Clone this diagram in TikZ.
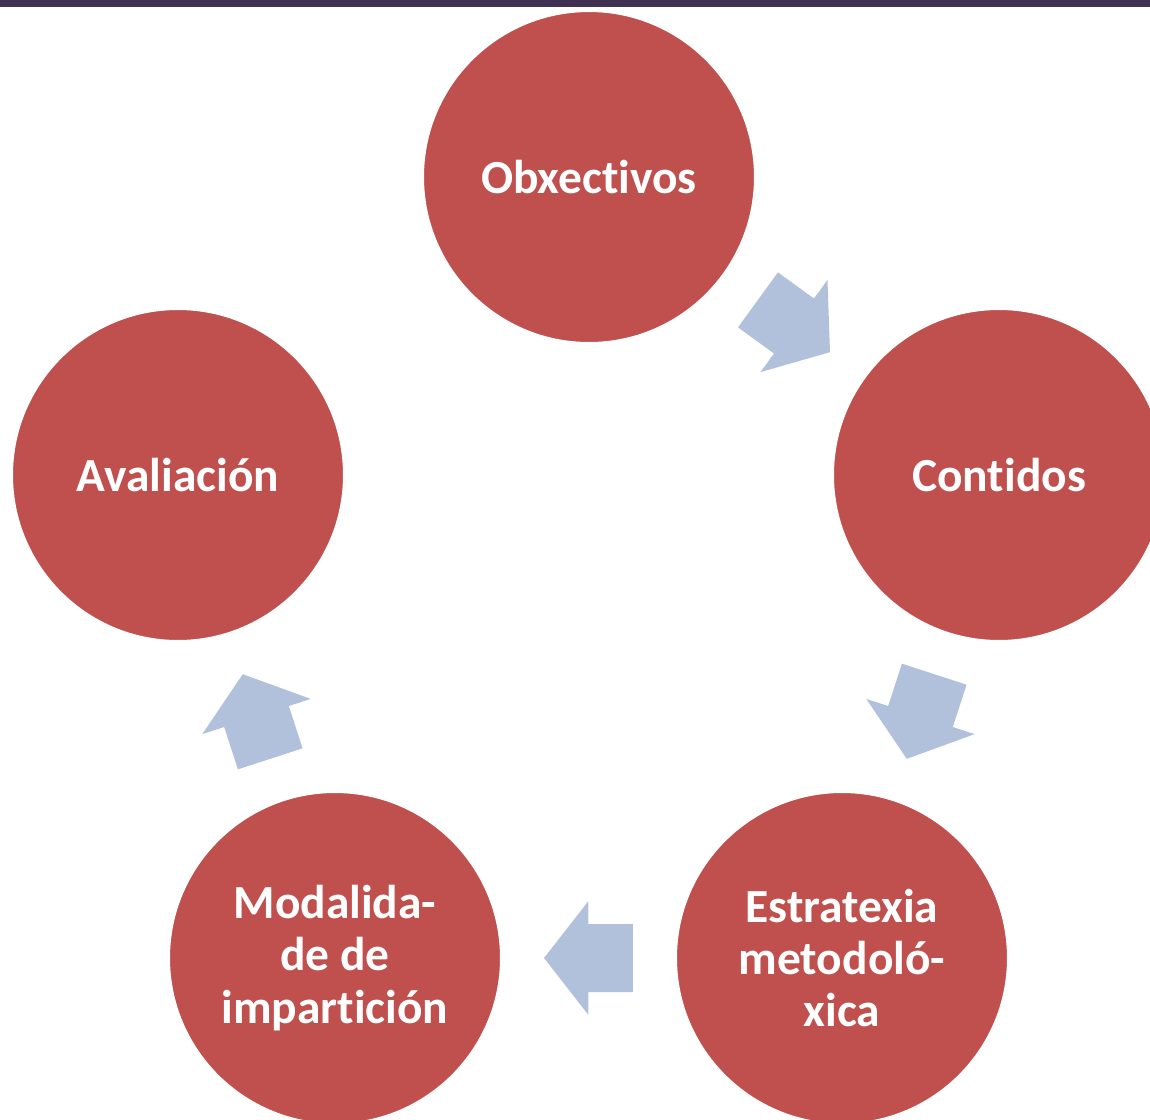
\documentclass[tikz,border=0pt]{standalone}
\usepackage{fontspec}
\setmainfont{Carlito}[Ligatures=NoCommon]
\usetikzlibrary{calc}
\definecolor{stagered}{RGB}{192,80,77}
\definecolor{flowblue}{RGB}{178,193,219}
\definecolor{topbar}{RGB}{64,49,82}

\begin{document}
\begin{tikzpicture}[x=0.01cm, y=-0.01cm,
    stage/.style={circle, fill=stagered, draw=white, line width=1.2pt,
      minimum size=3.34cm, inner sep=0pt, text=white, align=center,
      font=\fontsize{13.5}{14.9}\selectfont\bfseries},
    flow/.style={fill=flowblue}]
  \useasboundingbox (0, 0) rectangle (1150, 1120);
  \clip (0, 0) rectangle (1150, 1120);
  \fill[topbar] (0, 0) rectangle (1150, 7);

  \node[stage] (obx)  at (589, 177) {Obxectivos};
  \node[stage] (cont) at (999, 475) {Contidos};
  \node[stage] (estr) at (842, 958) {Estratexia\\metodoló-\\xica};
  \node[stage] (moda) at (335, 958) {Modalida-\\de de\\impartición};
  \node[stage] (aval) at (178, 475) {Avaliación};

  \foreach \a/\b/\ang in {obx/cont/-36, cont/estr/-108, estr/moda/180,
                          moda/aval/108} {
    \begin{scope}[shift={($(\a)!0.5!(\b)$)}, rotate=\ang]
      \fill[flow] (-44.5, 34) -- (0, 34) -- (0, 57) -- (44.5, 0)
        -- (0, -57) -- (0, -34) -- (-44.5, -34) -- cycle;
    \end{scope}
  }
\end{tikzpicture}
\end{document}
